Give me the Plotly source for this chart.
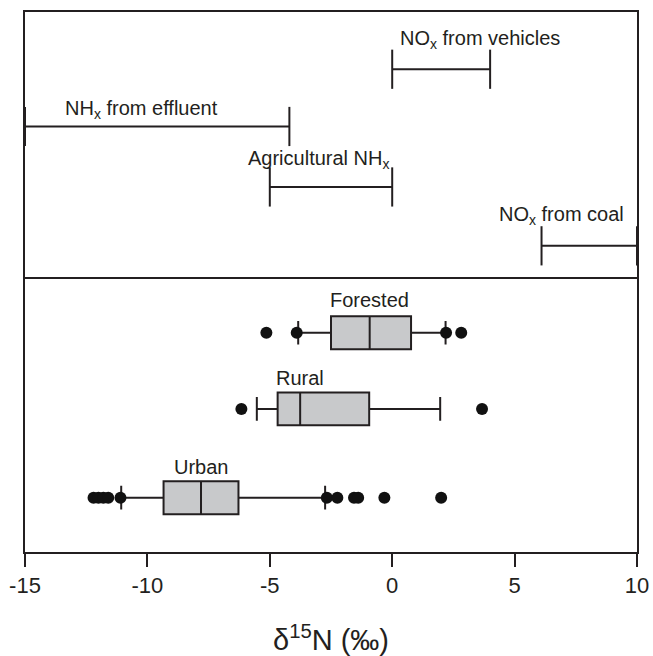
import plotly.graph_objects as go

# ---- data ----
source_names = ["NO<sub>x</sub> from vehicles", "NH<sub>x</sub> from effluent",
                "Agricultural NH<sub>x</sub>", "NO<sub>x</sub> from coal"]
source_min = [0.0, -15.0, -5.0, 6.1]
source_max = [4.0, -4.2, 0.0, 10.0]

groups = ["Forested", "Rural", "Urban"]
q1 = [-2.5, -4.68, -9.34]
median = [-0.92, -3.76, -7.81]
q3 = [0.77, -0.94, -6.28]
lower_whisker = [-3.84, -5.53, -11.07]
upper_whisker = [2.18, 1.96, -2.74]
outliers = [
    [-5.14, -3.9, 2.2, 2.82],
    [-6.16, 3.67],
    [-12.2, -12.0, -11.8, -11.6, -11.1, -2.67, -2.24, -1.56, -1.39, -0.32, 2.0],
]

x_ticks = [-15, -10, -5, 0, 5, 10]
x_tick_text = ["-15", "-10", "-5", "0", "5", "10"]

# ---- layout constants (vertical placement, axis fraction) ----
source_y = [0.894, 0.788, 0.676, 0.567]
source_label_y = [0.949, 0.820, 0.726, 0.624]
source_label_x = [3.57, -10.26, -3.0, 6.9]
group_y = [0.406, 0.265, 0.1006]
group_label_y = [0.466, 0.323, 0.158]
divider_y = 0.5074

INK = "#231f20"
FONT = "Liberation Sans, Arial, sans-serif"

fig = go.Figure()

for i, name in enumerate(source_names):
    fig.add_trace(go.Scatter(
        x=[source_min[i], source_max[i]], y=[source_y[i], source_y[i]],
        mode="lines+markers",
        line=dict(color=INK, width=2),
        marker=dict(symbol="line-ns", size=28, line=dict(color=INK, width=2)),
        cliponaxis=False, showlegend=False, hoverinfo="skip"))
    fig.add_annotation(x=source_label_x[i], y=source_label_y[i], text=name,
                       showarrow=False, font=dict(size=20, color=INK, family=FONT))

for i, g in enumerate(groups):
    fig.add_trace(go.Box(
        y=[group_y[i]], q1=[q1[i]], median=[median[i]], q3=[q3[i]],
        lowerfence=[lower_whisker[i]], upperfence=[upper_whisker[i]],
        orientation="h", width=0.061, whiskerwidth=0.72,
        fillcolor="#c8c9cb", line=dict(color=INK, width=2),
        boxpoints=False, showlegend=False, hoverinfo="skip"))
    fig.add_trace(go.Scatter(
        x=outliers[i], y=[group_y[i]] * len(outliers[i]), mode="markers",
        marker=dict(color="#111111", size=12), showlegend=False,
        cliponaxis=False, hoverinfo="skip"))
    fig.add_annotation(x=median[i], y=group_label_y[i], text=g, showarrow=False,
                       font=dict(size=20, color=INK, family=FONT))

fig.add_shape(type="line", xref="paper", x0=0, x1=1, yref="y",
              y0=divider_y, y1=divider_y, line=dict(color=INK, width=2))

fig.update_layout(
    width=653, height=656,
    margin=dict(l=25, r=16, t=12, b=104),
    plot_bgcolor="white", paper_bgcolor="white",
    font=dict(family=FONT, color=INK),
    xaxis=dict(range=[-15, 10], tickvals=x_ticks, ticktext=x_tick_text,
               ticks="outside", ticklen=13,
               tickwidth=2, tickcolor=INK, showline=True, linecolor=INK,
               linewidth=2, mirror=True, showgrid=False, zeroline=False,
               automargin=False,
               tickfont=dict(size=22, color=INK, family=FONT),
               title=dict(text="δ<sup>15</sup>N (‰)",
                          font=dict(size=29, color=INK, family=FONT),
                          standoff=32)),
    yaxis=dict(range=[0, 1], showticklabels=False, ticks="", showline=True,
               linecolor=INK, linewidth=2, mirror=True, showgrid=False,
               zeroline=False, automargin=False),
)

fig.write_html("out.html")
